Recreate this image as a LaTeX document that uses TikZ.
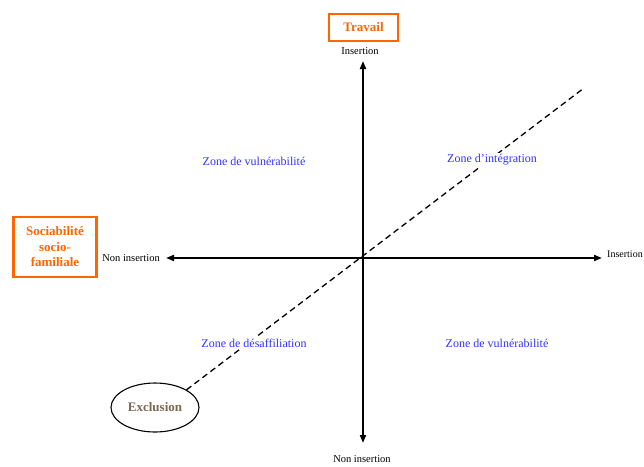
\documentclass[tikz,border=0pt]{standalone}
\usepackage{fontspec}
\setmainfont{Liberation Serif}
\usetikzlibrary{arrows.meta,shapes.geometric}
\definecolor{orng}{RGB}{255,102,0}
\definecolor{zblue}{RGB}{51,51,255}
\definecolor{brwn}{RGB}{122,104,80}
\tikzset{
  orangebox/.style={draw=orng,line width=2.2pt,text=orng,font=\fontsize{13}{15.5}\selectfont\bfseries,align=center,inner sep=0pt},
  zonelbl/.style={text=zblue,font=\fontsize{12}{14}\selectfont,fill=white,inner sep=2pt},
  axlbl/.style={font=\fontsize{10.5}{12}\selectfont,inner sep=0pt},
  axis/.style={line width=1.8pt,{Triangle[length=8pt,width=6pt]}-{Triangle[length=8pt,width=6pt]}},
  diag/.style={line width=1.3pt,dash pattern=on 6pt off 4pt}
}
\begin{document}
\begin{tikzpicture}[x=1pt,y=-1pt]
\useasboundingbox (0,0) rectangle (644,466);
% coordinates
\coordinate (top) at (363,61);
\coordinate (bot) at (363,443);
\coordinate (left) at (166,258);
\coordinate (right) at (602,258);
\coordinate (dashend) at (584,88);
% boxes
\node[orangebox,minimum width=69pt,minimum height=27pt] (travail) at (363.5,27.5) {Travail};
\node[orangebox,minimum width=83pt,minimum height=60pt] (socio) at (55,247) {Sociabilité\\socio-\\familiale};
\node[draw,ellipse,line width=1.1pt,minimum width=88pt,minimum height=49pt,text=brwn,font=\fontsize{13}{15}\selectfont\bfseries] (excl) at (155,407.5) {Exclusion};
% dashed diagonal
\draw[diag] (excl.north east) -- (dashend);
% axes
\draw[axis] (bot) -- (top);
\draw[axis] (left) -- (right);
% axis labels
\node[axlbl] (ltop) at (360,51) {Insertion};
\node[axlbl] (lbot) at (362,459) {Non insertion};
\node[axlbl,anchor=east] (lleft) at (160,258) {Non insertion};
\node[axlbl,anchor=west,font=\fontsize{10}{12}\selectfont] (lright) at (607,254) {Insertion};
% zone labels
\node[zonelbl] (z1) at (254,161) {Zone de vulnérabilité};
\node[zonelbl] (z2) at (492,160) {Zone d’intégration};
\node[zonelbl] (z3) at (254,343) {Zone de désaffiliation};
\node[zonelbl] (z4) at (497,343) {Zone de vulnérabilité};
\end{tikzpicture}
\end{document}
